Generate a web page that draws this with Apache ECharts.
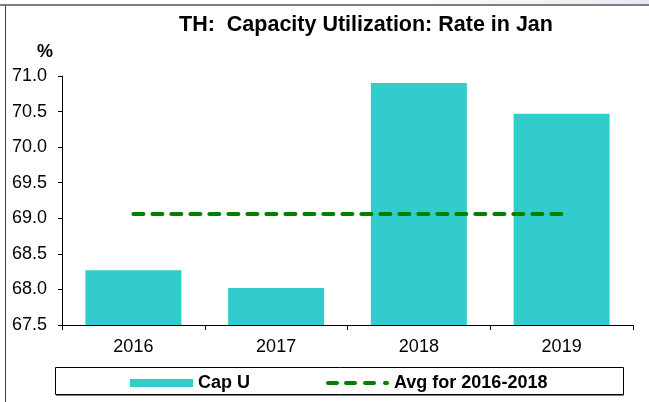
<!DOCTYPE html>
<html>
<head>
<meta charset="utf-8">
<script src="https://cdn.jsdelivr.net/npm/echarts@6/dist/echarts.min.js"></script>
<style>
html,body{margin:0;padding:0;background:#fff;}
#c{width:649px;height:402px;}
</style>
</head>
<body>
<div id="c"></div>
<script>
var categories = ['2016', '2017', '2018', '2019'];
var capU = [68.27, 68.02, 70.90, 70.47];
var avg2016to2018 = [69.06, 69.06, 69.06, 69.06];
var yTicks = { min: 67.5, max: 71.0, interval: 0.5 };

var chart = echarts.init(document.getElementById('c'), null, { renderer: 'canvas' });
var font = 'Liberation Sans, Arial, sans-serif';
var tiny = 'M0,0L0.01,0L0,0.01Z M63,9L62.99,9L63,8.99Z ';
var barIcon = 'path://' + tiny + 'M0,0.5L63,0.5L63,8.5L0,8.5Z';
var dashIcon = 'path://' + tiny +
  'M2,2.5L11,2.5A2,2 0 0 1 11,6.5L2,6.5A2,2 0 0 1 2,2.5Z ' +
  'M20,2.5L29,2.5A2,2 0 0 1 29,6.5L20,6.5A2,2 0 0 1 20,2.5Z ' +
  'M39,2.5L48,2.5A2,2 0 0 1 48,6.5L39,6.5A2,2 0 0 1 39,2.5Z ' +
  'M59,2.5L61,2.5A2,2 0 0 1 61,6.5L59,6.5A2,2 0 0 1 59,2.5Z';
chart.setOption({
  animation: false,
  backgroundColor: '#fff',
  title: {
    text: 'TH:  Capacity Utilization: Rate in Jan',
    left: 361, top: 9, textAlign: 'center',
    textStyle: { fontFamily: font, fontSize: 21.5, fontWeight: 'bold', color: '#000' }
  },
  grid: { left: 62, right: 16, top: 76, bottom: 77, containLabel: false },
  xAxis: {
    type: 'category',
    data: categories,
    boundaryGap: true,
    axisLine: { lineStyle: { color: '#000', width: 1 } },
    axisTick: { show: true, length: 5, alignWithLabel: false, lineStyle: { color: '#000' } },
    axisLabel: { color: '#000', fontFamily: font, fontSize: 18, margin: 13 }
  },
  yAxis: {
    type: 'value',
    min: yTicks.min, max: yTicks.max, interval: yTicks.interval,
    name: '%',
    nameLocation: 'end',
    nameGap: 15,
    nameTextStyle: { fontFamily: font, fontSize: 18, fontWeight: 'bold', color: '#000', align: 'right', padding: [0, 9, 0, 0] },
    axisLine: { show: true, lineStyle: { color: '#000', width: 1 } },
    axisTick: { show: true, length: 4, lineStyle: { color: '#000' } },
    splitLine: { show: false },
    axisLabel: {
      color: '#000', fontFamily: font, fontSize: 18, margin: 15,
      formatter: function (v) { return v.toFixed(1); }
    }
  },
  legend: {
    left: 125, top: 369,
    itemWidth: 63, itemHeight: 9, itemGap: 76,
    textStyle: { fontFamily: font, fontSize: 18, fontWeight: 'bold', color: '#000' },
    data: [
      { name: 'Cap U', icon: barIcon, itemStyle: { borderWidth: 0 } },
      { name: 'Avg for 2016-2018', icon: dashIcon, itemStyle: { color: '#008000', borderWidth: 0 }, lineStyle: { width: 0 } }
    ]
  },
  series: [
    {
      name: 'Cap U', type: 'bar', data: capU, barWidth: 96,
      itemStyle: { color: '#33CCCC' }
    },
    {
      name: 'Avg for 2016-2018', type: 'line', data: avg2016to2018,
      symbol: 'none', showSymbol: false,
      lineStyle: { color: '#008000', width: 4, type: [10, 9], cap: 'round' },
      itemStyle: { color: '#008000' }
    }
  ],
  graphic: [
    { type: 'rect', shape: { x: 0, y: 0, width: 649, height: 4 }, silent: true,
      style: { fill: new echarts.graphic.LinearGradient(0, 0, 1, 0, [{ offset: 0, color: '#ffffff' }, { offset: 0.6, color: '#ffffff' }, { offset: 1, color: '#e8e8f3' }]) } },
    { type: 'line', shape: { x1: 0, y1: 5, x2: 649, y2: 5 }, style: { stroke: '#808080', lineWidth: 2 }, silent: true },
    { type: 'line', shape: { x1: 5.5, y1: 5, x2: 5.5, y2: 402 }, style: { stroke: '#404040', lineWidth: 1 }, silent: true },
    { type: 'rect', shape: { x: 55.5, y: 367.5, width: 568, height: 27 }, style: { fill: 'none', stroke: '#000', lineWidth: 1 }, silent: true, z: -1 },
    { type: 'line', shape: { x1: 56, y1: 395.5, x2: 624, y2: 395.5 }, style: { stroke: '#808080', lineWidth: 1 }, silent: true }
  ]
});
</script>
</body>
</html>
